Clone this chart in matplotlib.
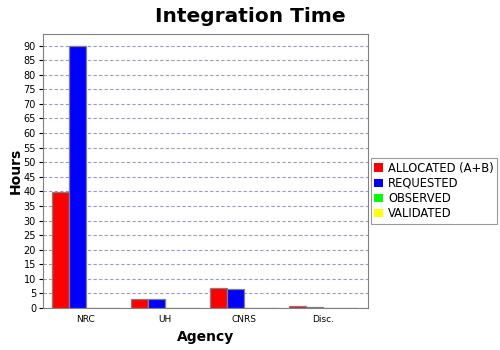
import matplotlib
matplotlib.use("Agg")
import matplotlib.pyplot as plt
import numpy as np

# Integration time per agency (hours)
agencies = ["NRC", "UH", "CNRS", "Disc."]
allocated = [39.7, 3.0, 6.8, 0.6]
requested = [90.0, 3.0, 6.4, 0.5]
observed = [0, 0, 0, 0]
validated = [0, 0, 0, 0]

series = [
    ("ALLOCATED (A+B)", allocated, "#ff0000"),
    ("REQUESTED", requested, "#0000ff"),
    ("OBSERVED", observed, "#00ff00"),
    ("VALIDATED", validated, "#ffff00"),
]

plt.rcParams.update({
    "font.family": "DejaVu Sans",
    "figure.facecolor": "white",
    "axes.facecolor": "white",
})

fig = plt.figure(figsize=(5, 3.5), dpi=100)
ax = fig.add_axes([0.086, 0.12, 0.65, 0.783])

x = np.arange(len(agencies))
w = 0.215
for i, (name, vals, col) in enumerate(series):
    ax.bar(x + (i - 1.5) * w, vals, w, color=col, edgecolor="#808080",
           linewidth=0.9, label=name, zorder=3)

ax.set_xlim(-0.544, 3.57)
ax.set_ylim(0, 94)
ax.set_yticks(range(0, 95, 5))
ax.set_xticks(x)
ax.set_xticklabels(agencies)
ax.tick_params(axis="y", labelsize=7, length=3, pad=2)
ax.tick_params(axis="x", labelsize=6.5, length=0, pad=5)
ax.yaxis.grid(True, linestyle=(0, (3, 2)), color="#9a9ad0", linewidth=0.8, zorder=0)
for s in ax.spines.values():
    s.set_color("#808080")

ax.set_ylabel("Hours", fontsize=10, fontweight="bold")
ax.yaxis.set_label_coords(-0.062, 0.5)
ax.set_xlabel("Agency", fontsize=10, fontweight="bold", labelpad=4)
fig.text(0.5, 0.953, "Integration Time", ha="center", va="center",
         fontsize=14.5, fontweight="bold")

leg = ax.legend(loc="center left", bbox_to_anchor=(1.008, 0.427), fontsize=8.3,
                frameon=True, fancybox=False, edgecolor="#808080",
                handlelength=0.8, handleheight=0.8, handletextpad=0.4,
                borderpad=0.3, labelspacing=0.18, borderaxespad=0)
leg.get_frame().set_linewidth(0.8)
for h in leg.legend_handles:
    h.set_edgecolor("none")

fig.savefig("out.png", dpi=100, facecolor="white")
